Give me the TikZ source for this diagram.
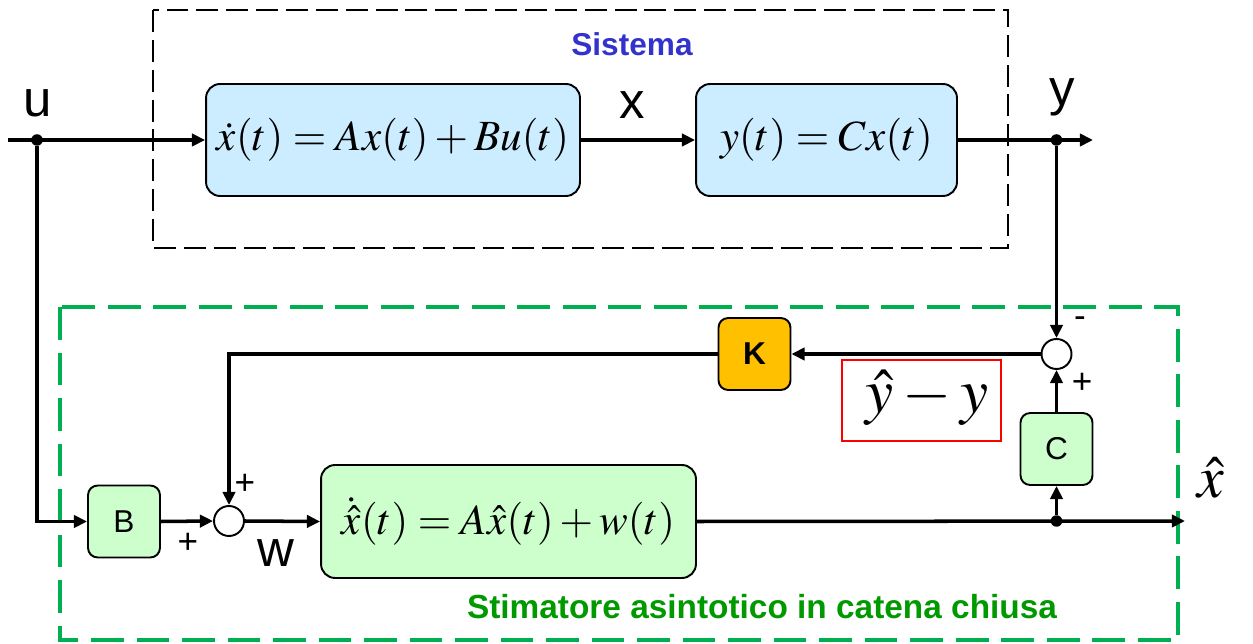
\documentclass[tikz,border=0pt]{standalone}
\usepackage{mathptmx}
\usepackage[no-math]{fontspec}
\setmainfont{Liberation Sans}
\usepackage{xcolor}
\definecolor{sysFill}{HTML}{CCECFF}
\definecolor{estFill}{HTML}{CCFFCC}
\definecolor{gainFill}{HTML}{FFC000}
\definecolor{sysTitle}{HTML}{3333CC}
\definecolor{estLine}{HTML}{00B050}
\definecolor{estTitle}{HTML}{009900}
\usetikzlibrary{arrows.meta}

\begin{document}
\begin{tikzpicture}[x=0.02cm, y=-0.02cm,
  bigblk/.style={draw, line width=1.1pt, rounded corners=8pt, inner sep=0pt},
  smallblk/.style={draw, line width=1.1pt, rounded corners=5.5pt, inner sep=0pt,
    minimum width=1.44cm, minimum height=1.44cm, font=\fontsize{18}{20}\selectfont},
  sumnode/.style={circle, draw, line width=1.1pt, fill=white, inner sep=0pt, minimum size=0.6cm},
  dot/.style={circle, fill=black, inner sep=0pt, minimum size=0.23cm},
  sig/.style={line width=2pt, -{Triangle[length=7.5pt,width=7pt]}},
  lbl/.style={font=\fontsize{29}{32}\selectfont},
  sgn/.style={font=\fontsize{20}{22}\selectfont},
  eq/.style={font=\fontsize{24.5}{28}\selectfont}]
  \useasboundingbox (0,0) rectangle (1253,644);
  % system and estimator frames
  \draw[line width=1.5pt, dash pattern=on 12.5pt off 4.5pt] (153,10) rectangle (1008,248);
  \draw[estLine, line width=2.3pt, dash pattern=on 18.7pt off 7.2pt] (60,307) rectangle (1178,640);
  \node[text=sysTitle, font=\bfseries\fontsize{18}{20}\selectfont] (sistema) at (632,44) {Sistema};
  \node[text=estTitle, font=\bfseries\fontsize{19}{21}\selectfont] (stima) at (762,607) {Stimatore asintotico in catena chiusa};
  % blocks
  \node[bigblk, fill=sysFill, minimum width=7.48cm, minimum height=2.24cm, eq] (stato) at (393,140)
    {$\dot{x}(t) = Ax(t) + Bu(t)$};
  \node[bigblk, fill=sysFill, minimum width=5.22cm, minimum height=2.24cm, eq] (uscita) at (826.5,140)
    {$y(t) = Cx(t)$};
  \node[bigblk, fill=estFill, minimum width=7.5cm, minimum height=2.26cm, eq] (stimatore) at (508.5,521.5)
    {$\dot{\hat{x}}(t) = A\hat{x}(t) + w(t)$};
  \node[smallblk, fill=estFill] (B) at (124,521.5) {B};
  \node[smallblk, fill=estFill] (C) at (1056.5,449) {C};
  \node[smallblk, fill=gainFill, font=\bfseries\fontsize{18}{20}\selectfont] (K) at (754.5,354) {K};
  \node[sumnode] (sum1) at (229,521) {};
  \node[sumnode] (sum2) at (1056.5,354) {};
  \node[draw=red, line width=1.2pt, minimum width=3.18cm, minimum height=1.62cm] (errore) at (921.5,400.5) {};
  \node[font=\fontsize{36}{38}\selectfont] (diff) at (927,398) {$\hat{y} - y$};
  % branch points
  \coordinate (uin) at (8,140);
  \node[dot] (udot) at (37,140) {};
  \node[dot] (ydot) at (1056.5,140) {};
  \coordinate (yout) at (1093,140);
  \node[dot] (xdot) at (1056.5,521) {};
  \coordinate (xout) at (1185,521);
  % signals
  \draw[sig] (uin) -- (stato.west);
  \draw[sig] (stato.east) -- (uscita.west);
  \draw[sig] (uscita.east) -- (yout);
  \draw[sig] (udot) |- (B.west);
  \draw[sig] (B.east) -- (sum1.west);
  \draw[sig] (sum1.east) -- (stimatore.west);
  \draw[sig] (stimatore.east) -- (xout);
  \draw[sig] (xdot) -- (C.south);
  \draw[sig] (C.north) -- (sum2.south);
  \draw[sig] (ydot) -- (sum2.north);
  \draw[sig] (sum2.west) -- (K.east);
  \draw[sig] (K.west) -| (sum1.north);
  % labels
  \node[lbl] (ulbl) at (38,103) {u};
  \node[lbl] (xlbl) at (632,105) {x};
  \node[lbl] (ylbl) at (1062,97) {y};
  \node[lbl] (wlbl) at (276,553) {w};
  \node[font=\fontsize{34}{36}\selectfont] (xhat) at (1211,478) {$\hat{x}$};
  \node[sgn] (meno) at (1080,322) {-};
  \node[sgn] (piu2) at (1082,383) {+};
  \node[sgn] (piu1) at (245,484) {+};
  \node[sgn] (piu0) at (188,543) {+};
\end{tikzpicture}
\end{document}
